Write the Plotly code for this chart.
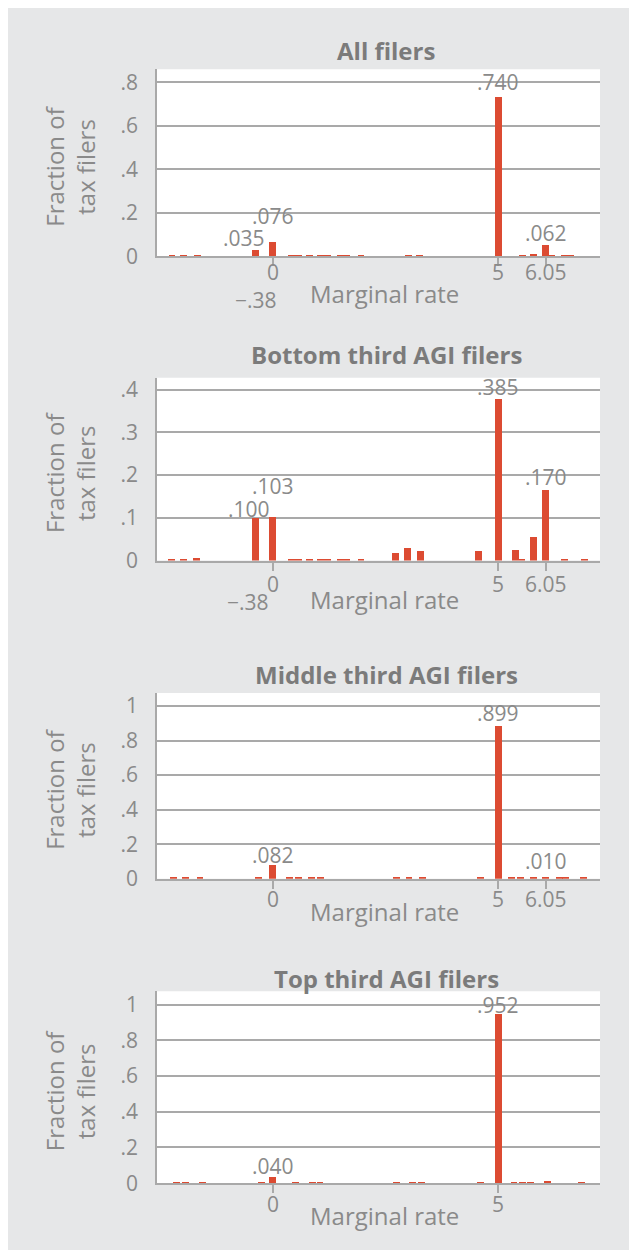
import plotly.graph_objects as go

# ---------------- data ----------------
titles = ["All filers", "Bottom third AGI filers", "Middle third AGI filers", "Top third AGI filers"]

all_rate = [-2.23, -1.98, -1.66, -0.38, 0.0, 0.42, 0.57, 0.81, 1.06, 1.21, 1.49, 1.63, 1.96,
            3.01, 3.25, 5.0, 5.54, 5.78, 6.05, 6.19, 6.47, 6.60]
all_frac = [0.003, 0.003, 0.003, 0.028, 0.065, 0.006, 0.006, 0.006, 0.006, 0.006, 0.006, 0.006, 0.006,
            0.004, 0.006, 0.730, 0.005, 0.011, 0.050, 0.004, 0.005, 0.005]

bot_rate = [-2.25, -1.98, -1.69, -0.38, 0.0, 0.42, 0.57, 0.81, 1.06, 1.21, 1.49, 1.63, 1.96,
            2.72, 2.99, 3.28, 4.56, 5.0, 5.38, 5.53, 5.78, 6.05, 6.47, 6.91]
bot_frac = [0.005, 0.005, 0.007, 0.100, 0.103, 0.003, 0.003, 0.003, 0.003, 0.003, 0.003, 0.003, 0.003,
            0.019, 0.029, 0.022, 0.022, 0.380, 0.026, 0.003, 0.056, 0.165, 0.003, 0.003]

mid_rate = [-2.20, -1.93, -1.61, -0.31, 0.0, 0.37, 0.57, 0.86, 1.06, 2.75, 3.02, 3.32, 4.61,
            5.0, 5.30, 5.50, 5.79, 6.05, 6.36, 6.49, 6.89]
mid_frac = [0.006, 0.006, 0.006, 0.006, 0.080, 0.006, 0.006, 0.006, 0.006, 0.006, 0.006, 0.006, 0.006,
            0.884, 0.006, 0.006, 0.006, 0.010, 0.006, 0.006, 0.006]

top_rate = [-2.13, -1.94, -1.56, -0.24, 0.0, 0.51, 0.88, 1.05, 2.75, 3.10, 3.30, 4.61,
            5.0, 5.35, 5.54, 5.71, 6.10, 6.85]
top_frac = [0.005, 0.005, 0.005, 0.005, 0.033, 0.005, 0.005, 0.005, 0.005, 0.005, 0.005, 0.005,
            0.946, 0.005, 0.005, 0.005, 0.010, 0.005]

label_rate = [[-0.38, 0.0, 5.0, 6.05], [-0.38, 0.0, 5.0, 6.05], [0.0, 5.0, 6.05], [0.0, 5.0]]
label_text = [[".035", ".076", ".740", ".062"], [".100", ".103", ".385", ".170"],
              [".082", ".899", ".010"], [".040", ".952"]]

xtick_vals = [[0, 5, 6.05], [0, 5, 6.05], [0, 5, 6.05], [0, 5]]
xtick_text = [["0", "5", "6.05"], ["0", "5", "6.05"], ["0", "5", "6.05"], ["0", "5"]]
low_tick_vals = [[-0.38], [-0.38], [], []]
low_tick_text = [["\u2212.38"], ["\u2212.38"], [], []]

ytick_vals = [[0, 0.2, 0.4, 0.6, 0.8], [0, 0.1, 0.2, 0.3, 0.4],
              [0, 0.2, 0.4, 0.6, 0.8, 1.0], [0, 0.2, 0.4, 0.6, 0.8, 1.0]]
ytick_text = [["0", ".2", ".4", ".6", ".8"], ["0", ".1", ".2", ".3", ".4"],
              ["0", ".2", ".4", ".6", ".8", "1"], ["0", ".2", ".4", ".6", ".8", "1"]]
y_max = [0.86, 0.428, 1.075, 1.075]

series = [(all_rate, all_frac), (bot_rate, bot_frac), (mid_rate, mid_frac), (top_rate, top_frac)]

# ---------------- style ----------------
W, H = 621, 1242      # figure size; page adds an 8px body margin
OFF = 8
FONT = "Open Sans"
BG = "#e6e7e8"
BAR = "#dc4b32"
GRID = "#a9a9a9"
TXT = "#8a8a8a"
TTL = "#7b7b7b"

plot_left, plot_right = 157, 600          # page pixels
panel_px = [(67, 256.5), (379.5, 564.7), (699, 887), (1001, 1195.5)]  # (top, bottom)
title_y = [48, 356, 680, 988]
xtick_off = [16, 23, 20, 21]
xtitle_off = [38, 39, 33, 33]
low_xshift = [0, -8]
low_yshift = [-44, -41]
label_xshift = [[-12, 0, 0, 0], [-7, 0, 0, 0], [0, 0, 0], [0, 0]]
label_yshift = [[-5, 8, -3, -6], [-7, 15, -7, -5], [-6, -6, 0], [-6, -8]]


def px_x(p):
    return (p - OFF) / W


def px_y(p):
    return 1 - (p - OFF) / H


fig = go.Figure()
shapes = []
annotations = []

x_range = [-2.565, 7.257]
tick_font = dict(family=FONT, size=21, color=TXT)

for i in range(4):
    n = "" if i == 0 else str(i + 1)
    top, bot = panel_px[i]
    rx, ry = series[i]
    fig.add_trace(go.Bar(x=rx, y=ry, width=0.15, marker=dict(color=BAR, line_width=0),
                         xaxis="x" + n, yaxis="y" + n, showlegend=False, hoverinfo="x+y"))
    fig.layout["xaxis" + n] = dict(
        domain=[px_x(plot_left), px_x(plot_right)], anchor="y" + n, range=x_range,
        tickmode="array", tickvals=xtick_vals[i], showticklabels=False,
        ticks="outside", ticklen=8, tickwidth=1.5, tickcolor=GRID,
        showline=True, linecolor=GRID, linewidth=2, showgrid=False, zeroline=False,
        fixedrange=True)
    fig.layout["yaxis" + n] = dict(
        domain=[px_y(bot), px_y(top)], anchor="x" + n, range=[0, y_max[i]],
        tickmode="array", tickvals=ytick_vals[i], ticktext=ytick_text[i],
        ticks="", showline=True, linecolor=GRID, linewidth=1.5,
        showgrid=True, gridcolor=GRID, gridwidth=1.5, zeroline=False,
        tickfont=tick_font, ticklabelstandoff=13, fixedrange=True)

    shapes.append(dict(type="rect", xref="paper", yref="paper",
                       x0=px_x(plot_left), x1=px_x(plot_right), y0=px_y(bot), y1=px_y(top),
                       fillcolor="white", line_width=0, layer="below"))

    # x tick labels
    for v, t in zip(xtick_vals[i], xtick_text[i]):
        annotations.append(dict(x=v, y=0, xref="x" + n, yref="y" + n, text=t, showarrow=False,
                                yanchor="middle", xanchor="center", yshift=-xtick_off[i],
                                font=tick_font))

    # long ticks with lowered labels
    for v, t in zip(low_tick_vals[i], low_tick_text[i]):
        shapes.append(dict(type="line", xref="x" + n, yref="y" + n, ysizemode="pixel", yanchor=0,
                           x0=v, x1=v, y0=0, y1=-28, line=dict(color=GRID, width=1.5)))
        annotations.append(dict(x=v, y=0, xref="x" + n, yref="y" + n, text=t, showarrow=False,
                                yanchor="middle", yshift=low_yshift[i], xanchor="center",
                                xshift=low_xshift[i], font=tick_font))

    # value labels
    for j, (v, t) in enumerate(zip(label_rate[i], label_text[i])):
        annotations.append(dict(x=v, y=float(t), xref="x" + n, yref="y" + n, text=t,
                                showarrow=False, yanchor="bottom", xanchor="center",
                                xshift=label_xshift[i][j], yshift=label_yshift[i][j],
                                font=tick_font))

    annotations.append(dict(x=px_x(386), y=px_y(title_y[i]), xref="paper", yref="paper",
                            text="<b>" + titles[i] + "</b>", showarrow=False,
                            xanchor="center", yanchor="middle",
                            font=dict(family=FONT, size=24, color=TTL)))
    annotations.append(dict(x=px_x(384), y=px_y(bot + xtitle_off[i]), xref="paper", yref="paper",
                            text="Marginal rate", showarrow=False, xanchor="center", yanchor="middle",
                            font=dict(family=FONT, size=24, color=TXT)))
    annotations.append(dict(x=px_x(70), y=px_y((top + bot) / 2 + 4), xref="paper", yref="paper",
                            text="Fraction of<br>tax filers", showarrow=False, textangle=-90,
                            xanchor="center", yanchor="middle",
                            font=dict(family=FONT, size=24, color=TXT)))

fig.update_layout(width=W, height=H, margin=dict(l=0, r=0, t=0, b=0),
                  paper_bgcolor=BG, plot_bgcolor="rgba(0,0,0,0)",
                  shapes=shapes, annotations=annotations, bargap=0,
                  font=dict(family=FONT, color=TXT))

fig.write_html("out.html")
